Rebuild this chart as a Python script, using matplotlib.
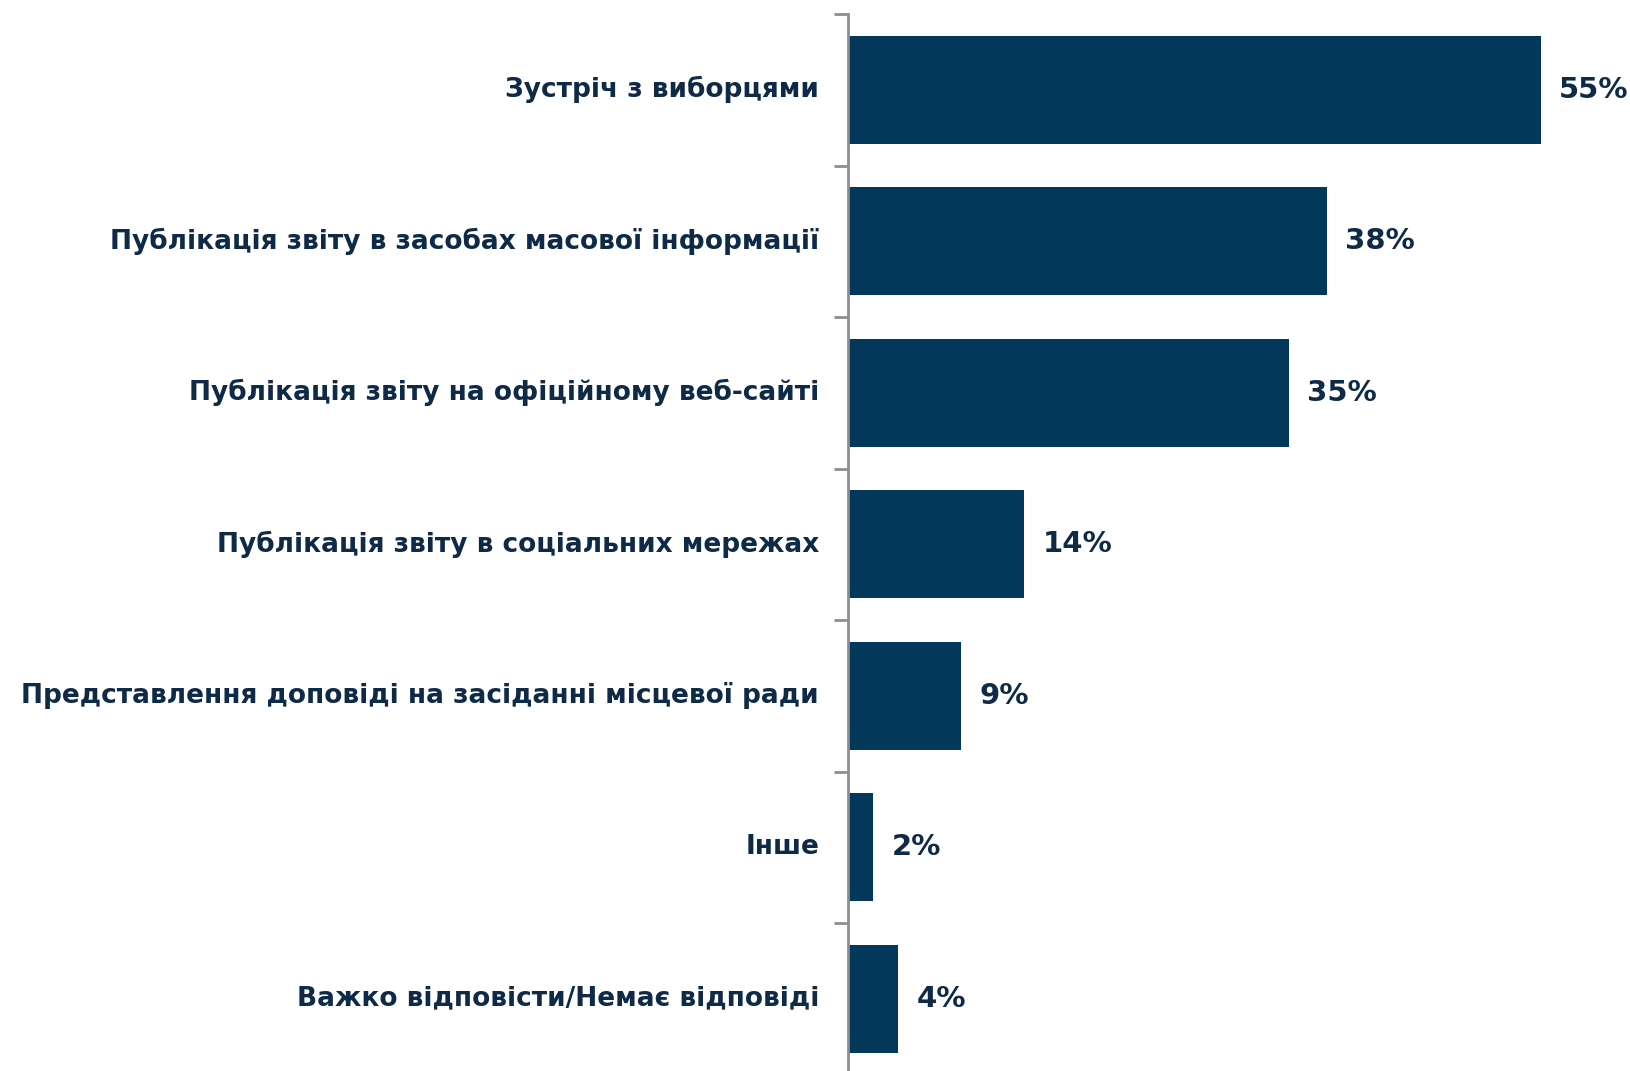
import matplotlib
matplotlib.use("Agg")
import matplotlib.pyplot as plt
from matplotlib.ticker import FixedLocator

categories = [
    "Зустріч з виборцями",
    "Публікація звіту в засобах масової інформації",
    "Публікація звіту на офіційному веб-сайті",
    "Публікація звіту в соціальних мережах",
    "Представлення доповіді на засіданні місцевої ради",
    "Інше",
    "Важко відповісти/Немає відповіді",
]
values = [55, 38, 35, 14, 9, 2, 4]

bar_color = "#03385A"
text_color = "#0F2A47"
axis_color = "#8C8D95"

plt.rcParams["font.family"] = ["DejaVu Sans"]

fig = plt.figure(figsize=(16.31, 10.71), dpi=100)
# axes: left edge at the vertical axis line, 7 bands of ~151.5 px from y=14
band = 151.5
ax = fig.add_axes([848 / 1631, (1071 - 14 - 7 * band) / 1071,
                   1 - 848 / 1631, 7 * band / 1071])

n = len(categories)
ypos = list(range(n))
ax.barh(ypos, values, height=0.71, color=bar_color, zorder=2)
ax.set_ylim(n - 0.5, -0.5)
ax.set_xlim(0, (1631 - 848) / 12.6)

for y, v in zip(ypos, values):
    ax.annotate(f"{v}%", (v, y), xytext=(13, 0), textcoords="offset points",
                ha="left", va="center", fontsize=21, fontweight="bold",
                color=text_color)
    ax.text(-29 / 12.6, y, categories[y], ha="right", va="center",
            fontsize=19, fontweight="bold", color=text_color)

# tick marks at the category boundaries
ax.yaxis.set_major_locator(FixedLocator([i - 0.5 for i in range(n + 1)]))
ax.set_yticklabels([])
ax.tick_params(axis="y", length=10, width=2, color=axis_color, direction="out")
ax.set_xticks([])

for s in ["top", "right", "bottom"]:
    ax.spines[s].set_visible(False)
ax.spines["left"].set_color(axis_color)
ax.spines["left"].set_linewidth(2)

fig.savefig("out.png", dpi=100)
